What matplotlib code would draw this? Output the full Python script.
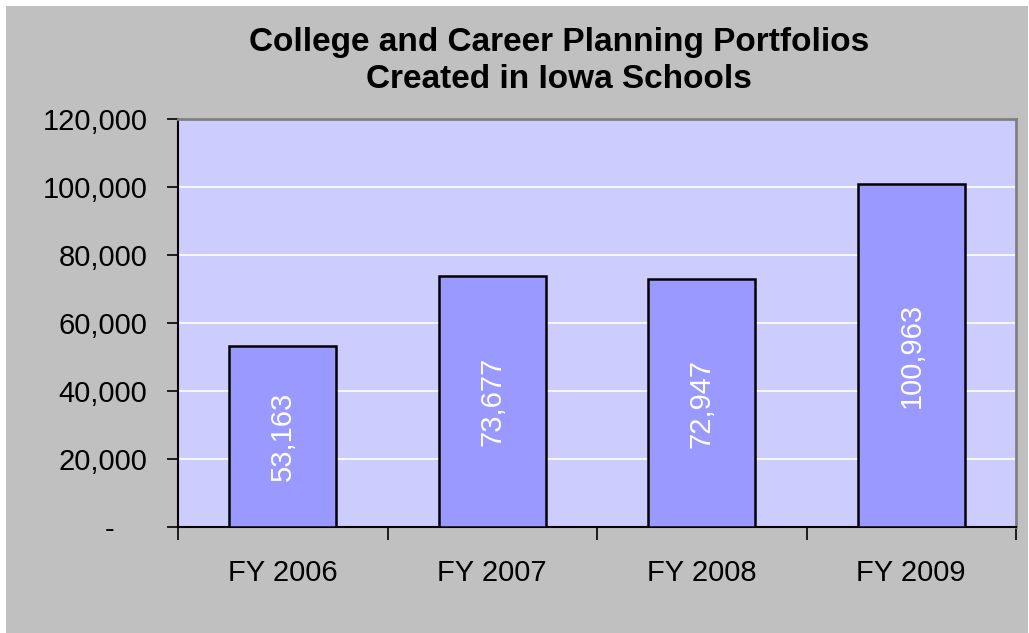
import matplotlib
matplotlib.use("Agg")
import matplotlib.pyplot as plt
from matplotlib.patches import Rectangle
from matplotlib.ticker import FixedLocator

plt.rcParams['font.family'] = ['Liberation Sans', 'DejaVu Sans']

# Data
categories = ["FY 2006", "FY 2007", "FY 2008", "FY 2009"]
portfolios = [53163, 73677, 72947, 100963]
y_ticks = [0, 20000, 40000, 60000, 80000, 100000, 120000]
y_labels = ["-    ", "20,000", "40,000", "60,000", "80,000", "100,000", "120,000"]

W, H = 1029, 633
fig = plt.figure(figsize=(W / 100, H / 100), dpi=100)
fig.patch.set_facecolor("white")

# grey chart area with a thin white margin on top/left
fig.add_artist(Rectangle((6 / W, 0), (1028 - 6) / W, (H - 6) / H,
                         transform=fig.transFigure, facecolor="#C0C0C0",
                         edgecolor="none", zorder=-10))

ax = fig.add_axes([178 / W, (H - 527) / H, (1016 - 178) / W, (527 - 119) / H])
ax.set_facecolor("#CCCCFF")

x = list(range(len(categories)))
bars = ax.bar(x, portfolios, width=0.51, color="#9999FF", edgecolor="black",
              linewidth=1.8, zorder=3)

for xi, v in zip(x, portfolios):
    ax.text(xi, v / 2, f"{v:,}", rotation=90, ha="center", va="center",
            color="white", fontsize=21, zorder=4)

ax.set_xlim(-0.5, len(categories) - 0.5)
ax.set_ylim(0, 120000)
ax.set_yticks(y_ticks)
ax.set_yticklabels(y_labels)
ax.yaxis.grid(True, color="white", linewidth=1.2, zorder=1)
ax.set_axisbelow(True)

ax.set_xticks(x)
ax.set_xticklabels(categories)
ax.xaxis.set_minor_locator(FixedLocator([i - 0.5 for i in range(len(categories) + 1)]))
ax.tick_params(axis="x", which="major", length=0, pad=23, labelsize=21)
ax.tick_params(axis="x", which="minor", length=9, width=1.2, color="black")
ax.tick_params(axis="y", which="major", length=8, width=1.2, pad=14, labelsize=21)

for side in ["left", "bottom"]:
    ax.spines[side].set_color("black")
    ax.spines[side].set_linewidth(1.5)
for side in ["top", "right"]:
    ax.spines[side].set_color("#808080")
    ax.spines[side].set_linewidth(2)

fig.text(559 / W, 1 - 42 / H, "College and Career Planning Portfolios",
         ha="center", va="center", fontsize=24, fontweight="bold")
fig.text(559 / W, 1 - 80 / H, "Created in Iowa Schools",
         ha="center", va="center", fontsize=24, fontweight="bold")

fig.savefig("out.png", dpi=100, facecolor=fig.get_facecolor())
